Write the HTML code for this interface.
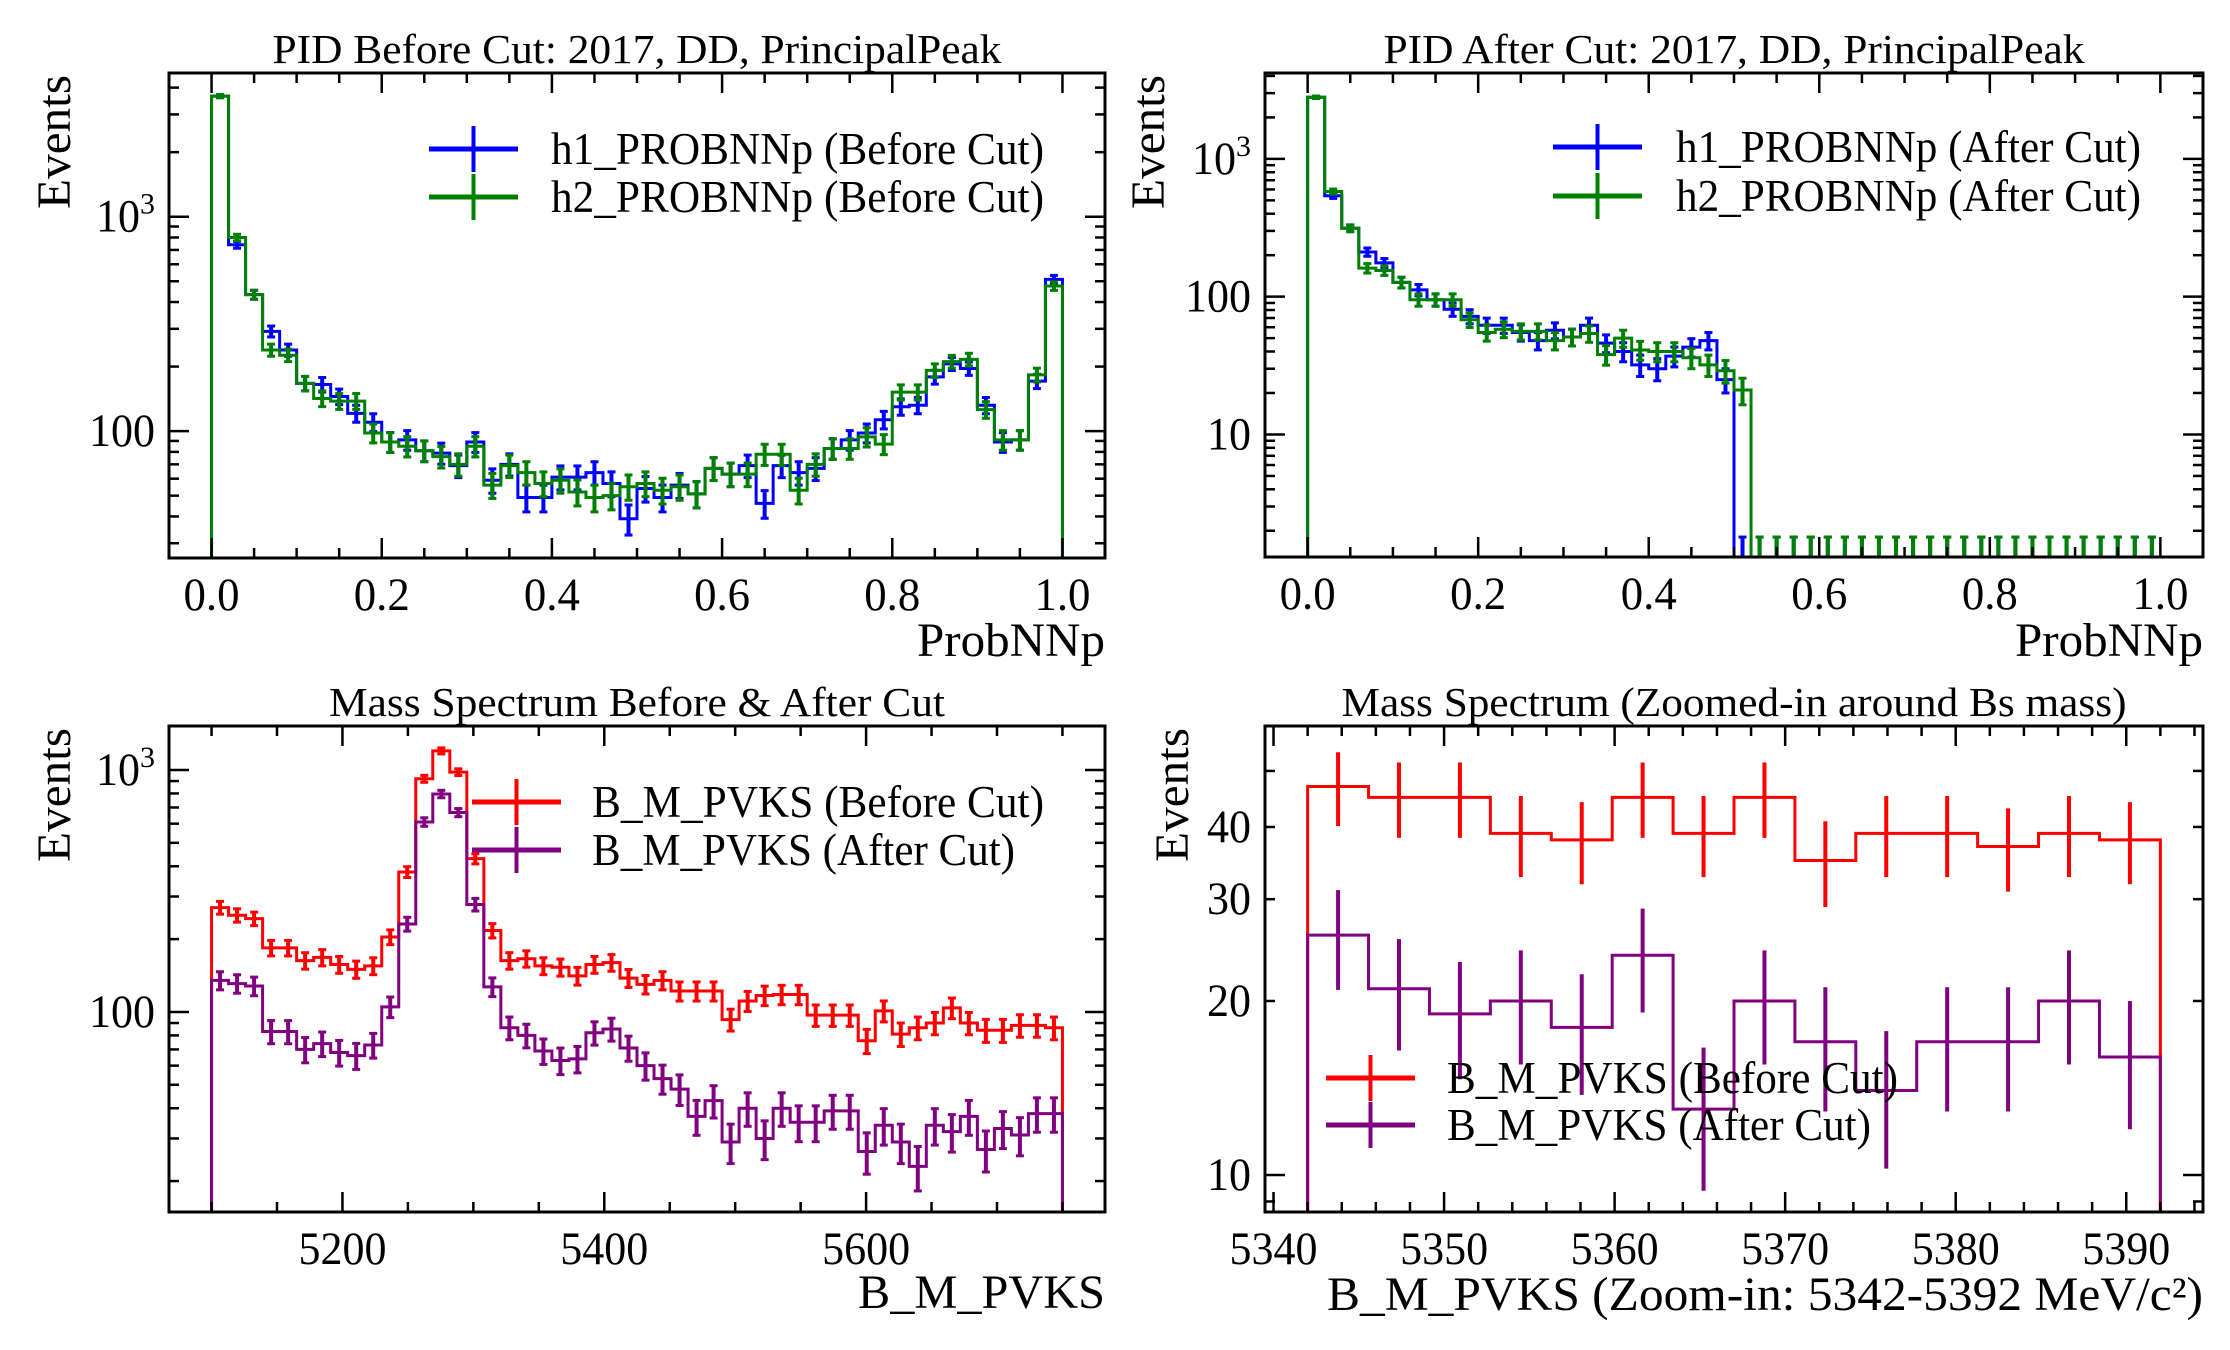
<!DOCTYPE html>
<html><head><meta charset="utf-8"><title>PID and Mass Spectrum</title>
<style>
html,body{margin:0;padding:0;background:#fff;}
svg{display:block;font-family:"Liberation Serif","DejaVu Serif",serif;}
</style></head>
<body>
<svg id="fig" xmlns="http://www.w3.org/2000/svg" width="2230" height="1350" viewBox="0 0 2230 1350"></svg>
<script>
// ---------- Panel 1 data: PID before cut (50 bins, 0..1) ----------
const p1Range = [0, 1];
const p1H1 = [3650,740,433,292,239,167,165,145,121,110,89,91,81,79,69,89,59,70,49,49,61,61,64,57,39,54,49,56,51,67,63,69,46,69,64,67,83,91,98,113,130,132,179,206,196,132,89,91,171,510];
const p1H2 = [3650,800,433,239,226,167,142,138,138,98,89,85,81,76,70,85,56,69,64,57,59,52,49,50,55,57,53,55,51,67,63,63,78,78,53,70,83,83,94,87,152,152,192,211,216,126,91,91,183,475];
const p1XTicks = [0, 0.2, 0.4, 0.6, 0.8, 1.0];
const p1XTickLabels = ["0.0","0.2","0.4","0.6","0.8","1.0"];
const p1YTicks = [100, 1000];
const p1YTickLabels = ["100","10^3"];

// ---------- Panel 2 data: PID after cut ----------
const p2Range = [0, 1];
const p2H1 = [2800,540,314,211,176,127,112,95,81,72,62,62,55,48,57,51,62,46,40,32,30,37,43,48,25,0,0,0,0,0,0,0,0,0,0,0,0,0,0,0,0,0,0,0,0,0,0,0,0,0];
const p2H2 = [2800,580,314,161,155,127,95,95,95,68,55,58,56,56,48,51,54,38,50,41,40,40,36,32,29,21,0,0,0,0,0,0,0,0,0,0,0,0,0,0,0,0,0,0,0,0,0,0,0,0];
const p2XTicks = [0, 0.2, 0.4, 0.6, 0.8, 1.0];
const p2XTickLabels = ["0.0","0.2","0.4","0.6","0.8","1.0"];
const p2YTicks = [10, 100, 1000];
const p2YTickLabels = ["10","100","10^3"];

// ---------- Panel 3 data: mass spectrum (50 bins, 5100..5750) ----------
const p3Range = [5100, 5750];
const p3Before = [270,251,243,184,184,163,168,157,150,155,204,379,920,1200,980,430,217,163,166,155,153,141,157,160,138,130,135,122,122,122,93,111,117,118,118,97,97,97,76,101,81,86,90,104,90,84,84,88,88,86];
const p3After = [135,131,128,83,83,70,74,68,66,73,105,231,610,796,667,278,127,86,80,69,63,64,82,85,71,60,53,48,37,43,29,40,30,40,35,35,39,39,26.5,34,29,23,34,32,37,27,33,31,38,38];
const p3XTicks = [5200, 5400, 5600];
const p3XTickLabels = ["5200","5400","5600"];
const p3YTicks = [100, 1000];
const p3YTickLabels = ["100","10^3"];

// ---------- Panel 4 data: zoomed mass (14 bins, 5342..5392) ----------
const p4Range = [5342, 5392];
const p4Before = [47,45,45,39,38,45,39,45,35,39,39,37,39,38];
const p4After = [26,21,19,20,18,24,13,20,17,14,17,17,20,16];
const p4XTicks = [5340, 5350, 5360, 5370, 5380, 5390];
const p4XTickLabels = ["5340","5350","5360","5370","5380","5390"];
const p4YTicks = [10, 20, 30, 40];
const p4YTickLabels = ["10","20","30","40"];

const NS = "http://www.w3.org/2000/svg";
const fig = document.getElementById('fig');
function mk(tag, attrs, parent) {
  const e = document.createElementNS(NS, tag);
  for (const k in attrs) e.setAttribute(k, attrs[k]);
  (parent || fig).appendChild(e);
  return e;
}
function labelLen(s) {
  let w = 0;
  for (const c of s) w += (c === '.') ? 12 : 22;
  return w;
}

function panel(cfg) {
  const g = mk('g', {});
  
  
  const L = cfg.box[0], T = cfg.box[1], R = cfg.box[2], B = cfg.box[3];
  const span = cfg.range[1] - cfg.range[0];
  const xmin = cfg.range[0] - 0.05 * span, xmax = cfg.range[1] + 0.05 * span;
  const X = v => L + (v - xmin) / (xmax - xmin) * (R - L);
  const lmin = Math.log10(cfg.ylim[0]), lmax = Math.log10(cfg.ylim[1]);
  const Y = v => B - (Math.log10(v) - lmin) / (lmax - lmin) * (B - T);
  const clipId = 'clip-' + cfg.name;
  const cp = mk('clipPath', { id: clipId }, g);
  mk('rect', { x: L, y: T, width: R - L, height: B - T }, cp);

  cfg.series.forEach((s) => {
    const n = s.values.length;
    const w = span / n;
    const sg = mk('g', { 'clip-path': 'url(#' + clipId + ')' }, g);
    
    
    const yv = v => v > 0 ? Y(v) : B + 20;
    let d = 'M' + X(cfg.range[0]) + ',' + (B + 20);
    for (let i = 0; i < n; i++) {
      const x0 = X(cfg.range[0] + i * w), x1 = X(cfg.range[0] + (i + 1) * w);
      d += ' L' + x0 + ',' + yv(s.values[i]) + ' L' + x1 + ',' + yv(s.values[i]);
    }
    d += ' L' + X(cfg.range[1]) + ',' + (B + 20);
    const step = mk('path', { d: d, fill: 'none', stroke: s.color, 'stroke-width': 3 }, sg);
    
    
    for (let i = 0; i < n; i++) {
      const v = s.values[i];
      const xc = X(cfg.range[0] + (i + 0.5) * w);
      const err = v > 0 ? Math.sqrt(v) : 1.8;
      const lo = v - err > 0 ? Y(v - err) : B + 20;
      const hi = v > 0 ? Y(v + err) : Y(err);
      const eb = mk('line', { x1: xc, x2: xc, y1: lo, y2: hi, stroke: s.color, 'stroke-width': 4 }, sg);
      
      
      if (cfg.caps) {
        mk('line', { x1: xc - 4, x2: xc + 4, y1: hi, y2: hi, stroke: s.color, 'stroke-width': 3 }, sg);
        if (v - err > 0) mk('line', { x1: xc - 4, x2: xc + 4, y1: lo, y2: lo, stroke: s.color, 'stroke-width': 3 }, sg);
      }
    }
  });

  const tg = mk('g', { stroke: '#000', 'stroke-width': 2.5 }, g);
  
  
  for (let v = cfg.xMinorStart; v <= xmax + 1e-9; v += cfg.xMinorStep) {
    if (v < xmin) continue;
    const isMajor = cfg.xticks.some(t => Math.abs(t - v) < 1e-6);
    const len = isMajor ? 20 : 10;
    const x = X(v);
    mk('line', { x1: x, x2: x, y1: B, y2: B - len }, tg);
    mk('line', { x1: x, x2: x, y1: T, y2: T + len }, tg);
  }
  for (let dec = Math.floor(lmin) - 1; dec <= Math.ceil(lmax); dec++) {
    for (let m = 1; m < 10; m++) {
      const v = m * Math.pow(10, dec);
      const lv = Math.log10(v);
      if (lv < lmin || lv > lmax) continue;
      const len = (m === 1) ? 20 : 10;
      const y = Y(v);
      mk('line', { x1: L, x2: L + len, y1: y, y2: y }, tg);
      mk('line', { x1: R, x2: R - len, y1: y, y2: y }, tg);
    }
  }
  const fr = mk('rect', { x: L, y: T, width: R - L, height: B - T, fill: 'none', stroke: '#000', 'stroke-width': 3 }, g);
  
  

  cfg.xticks.forEach((t, i) => {
    const lab = cfg.xlabels[i];
    const tx = mk('text', { x: X(t), y: B + 52, 'font-size': 47, 'text-anchor': 'middle', textLength: labelLen(lab), lengthAdjust: 'spacingAndGlyphs' }, g);
    
    
    tx.textContent = lab;
  });
  cfg.yticks.forEach((t, i) => {
    const lab = cfg.ylabels[i];
    const ty = mk('text', { x: L - 14, y: Y(t) + 15, 'font-size': 47, 'text-anchor': 'end' }, g);
    
    
    if (lab.indexOf('^') > 0) {
      const parts = lab.split('^');
      const t1 = mk('tspan', { textLength: 44, lengthAdjust: 'spacingAndGlyphs' }, ty);
      t1.textContent = parts[0];
      const sp = mk('tspan', { dy: -18, 'font-size': 30 }, ty);
      sp.textContent = parts[1];
    } else {
      ty.setAttribute('textLength', labelLen(lab));
      ty.setAttribute('lengthAdjust', 'spacingAndGlyphs');
      ty.textContent = lab;
    }
  });

  const tt = mk('text', { x: (L + R) / 2, y: T - 10, 'font-size': 41, 'text-anchor': 'middle', textLength: cfg.titleLen, lengthAdjust: 'spacingAndGlyphs' }, g);
  
  
  tt.textContent = cfg.title;
  const xl = mk('text', { x: R, y: cfg.xlabelY, 'font-size': 48, 'text-anchor': 'end', textLength: cfg.xlabelLen, lengthAdjust: 'spacingAndGlyphs' }, g);
  
  
  xl.textContent = cfg.xlabel;
  const yl = mk('text', { x: 0, y: 0, 'font-size': 48, 'text-anchor': 'end', textLength: 134, lengthAdjust: 'spacingAndGlyphs', transform: 'translate(' + cfg.ylabelX + ',' + (T + 2) + ') rotate(-90)' }, g);
  
  
  yl.textContent = 'Events';

  const lg = mk('g', {}, g);
  
  
  cfg.series.forEach((s, i) => {
    const ly = cfg.leg.y + i * cfg.leg.dy;
    const eg = mk('g', {}, lg);
    
    
    mk('line', { x1: cfg.leg.x, x2: cfg.leg.x + 89, y1: ly, y2: ly, stroke: s.color, 'stroke-width': 5 }, eg);
    mk('line', { x1: cfg.leg.x + 44.5, x2: cfg.leg.x + 44.5, y1: ly - 23, y2: ly + 23, stroke: s.color, 'stroke-width': 4 }, eg);
    const lt = mk('text', { x: cfg.leg.tx, y: ly + 15, 'font-size': 45, textLength: s.legLen, lengthAdjust: 'spacingAndGlyphs' }, eg);
    lt.textContent = s.label;
  });
}

panel({ name: 'pid-before-panel', box: [169, 73, 1105, 558], range: p1Range, ylim: [25.6, 4680],
  series: [{ key: 'h1-before', values: p1H1, color: '#0000ff', label: 'h1_PROBNNp (Before Cut)', legLen: 493 },
           { key: 'h2-before', values: p1H2, color: '#008000', label: 'h2_PROBNNp (Before Cut)', legLen: 493 }],
  caps: true, xticks: p1XTicks, xlabels: p1XTickLabels, xMinorStart: 0, xMinorStep: 0.05,
  yticks: p1YTicks, ylabels: p1YTickLabels,
  title: 'PID Before Cut: 2017, DD, PrincipalPeak', titleLen: 729,
  xlabel: 'ProbNNp', xlabelLen: 188, xlabelY: 656, ylabelX: 70,
  leg: { x: 429, y: 149, dy: 48, tx: 551 } });

panel({ name: 'pid-after-panel', box: [1265, 73, 2203, 557], range: p2Range, ylim: [1.29, 4200],
  series: [{ key: 'h1-after', values: p2H1, color: '#0000ff', label: 'h1_PROBNNp (After Cut)', legLen: 465 },
           { key: 'h2-after', values: p2H2, color: '#008000', label: 'h2_PROBNNp (After Cut)', legLen: 465 }],
  caps: true, xticks: p2XTicks, xlabels: p2XTickLabels, xMinorStart: 0, xMinorStep: 0.05,
  yticks: p2YTicks, ylabels: p2YTickLabels,
  title: 'PID After Cut: 2017, DD, PrincipalPeak', titleLen: 701,
  xlabel: 'ProbNNp', xlabelLen: 188, xlabelY: 656, ylabelX: 1164,
  leg: { x: 1553, y: 147, dy: 49, tx: 1676 } });

panel({ name: 'mass-panel', box: [169, 726, 1105, 1212], range: p3Range, ylim: [14.9, 1520],
  series: [{ key: 'mass-before', values: p3Before, color: '#ff0000', label: 'B_M_PVKS (Before Cut)', legLen: 452 },
           { key: 'mass-after', values: p3After, color: '#800080', label: 'B_M_PVKS (After Cut)', legLen: 423 }],
  caps: true, xticks: p3XTicks, xlabels: p3XTickLabels, xMinorStart: 5050, xMinorStep: 50,
  yticks: p3YTicks, ylabels: p3YTickLabels,
  title: 'Mass Spectrum Before & After Cut', titleLen: 616,
  xlabel: 'B_M_PVKS', xlabelLen: 247, xlabelY: 1308, ylabelX: 70,
  leg: { x: 472, y: 802, dy: 48, tx: 592 } });

panel({ name: 'mass-zoom-panel', box: [1265, 726, 2203, 1212], range: p4Range, ylim: [8.63, 59.8],
  series: [{ key: 'zoom-before', values: p4Before, color: '#ff0000', label: 'B_M_PVKS (Before Cut)', legLen: 451 },
           { key: 'zoom-after', values: p4After, color: '#800080', label: 'B_M_PVKS (After Cut)', legLen: 424 }],
  caps: false, xticks: p4XTicks, xlabels: p4XTickLabels, xMinorStart: 5340, xMinorStep: 2,
  yticks: p4YTicks, ylabels: p4YTickLabels,
  title: 'Mass Spectrum (Zoomed-in around Bs mass)', titleLen: 785,
  xlabel: 'B_M_PVKS (Zoom-in: 5342-5392 MeV/c²)', xlabelLen: 876, xlabelY: 1310, ylabelX: 1188,
  leg: { x: 1326, y: 1078, dy: 47, tx: 1447 } });
</script>
</body></html>
